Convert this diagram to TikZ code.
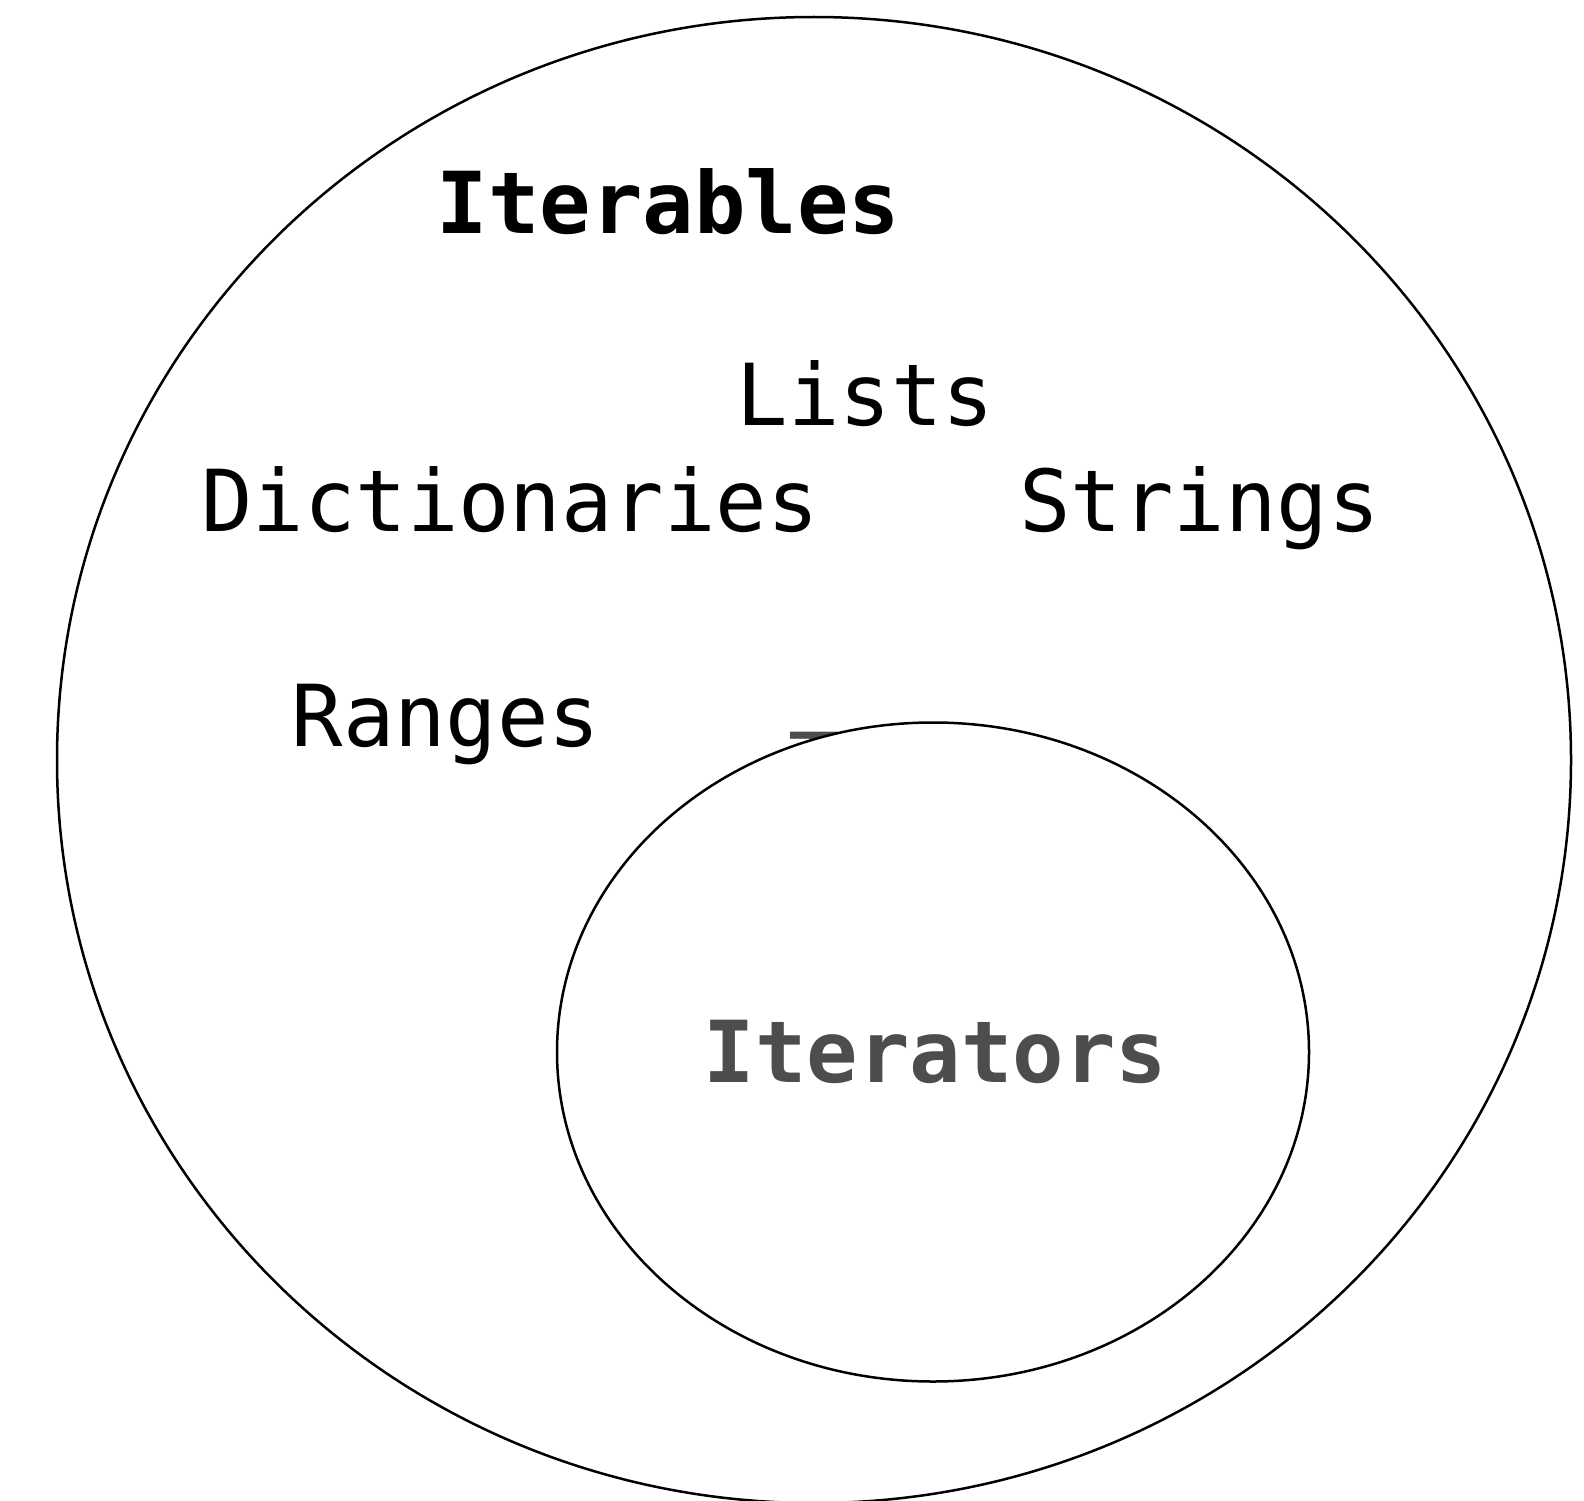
\documentclass[tikz,border=0pt]{standalone}
\usepackage{fontspec}
\usetikzlibrary{shapes.geometric}
\setmonofont{DejaVu Sans Mono}
\definecolor{itgrey}{HTML}{4D4D4D}
\tikzset{
  setline/.style={draw=black, line width=2.5pt},
  lbl/.style={anchor=base, inner sep=0pt, font=\ttfamily\fontsize{85.5}{100}\selectfont},
  bold/.style={font=\ttfamily\bfseries\fontsize{85.5}{100}\selectfont}
}
\begin{document}
\begin{tikzpicture}[x=1pt,y=-1pt]
\clip (0,0) rectangle (1584,1501);
\fill[white] (0,0) rectangle (1584,1501);
\node[setline, ellipse, minimum width=1514pt, minimum height=1486pt, inner sep=0pt] (iterables) at (814,760) {};
\node[lbl, bold] (title) at (668.5,233) {Iterables};
\node[lbl] (lists) at (865.5,425) {Lists};
\node[lbl] (dicts) at (510,531) {Dictionaries};
\node[lbl] (strings) at (1199.5,531) {Strings};
\node[lbl] (ranges) at (446,746) {Ranges};
\node[lbl, text=itgrey] (hidden) at (814,794) {T};
\node[setline, fill=white, ellipse, minimum width=752pt, minimum height=659pt, inner sep=0pt] (iterators) at (933,1052) {};
\node[lbl, bold, text=itgrey] (itlabel) at (935.5,1082) {Iterators};
\end{tikzpicture}
\end{document}
